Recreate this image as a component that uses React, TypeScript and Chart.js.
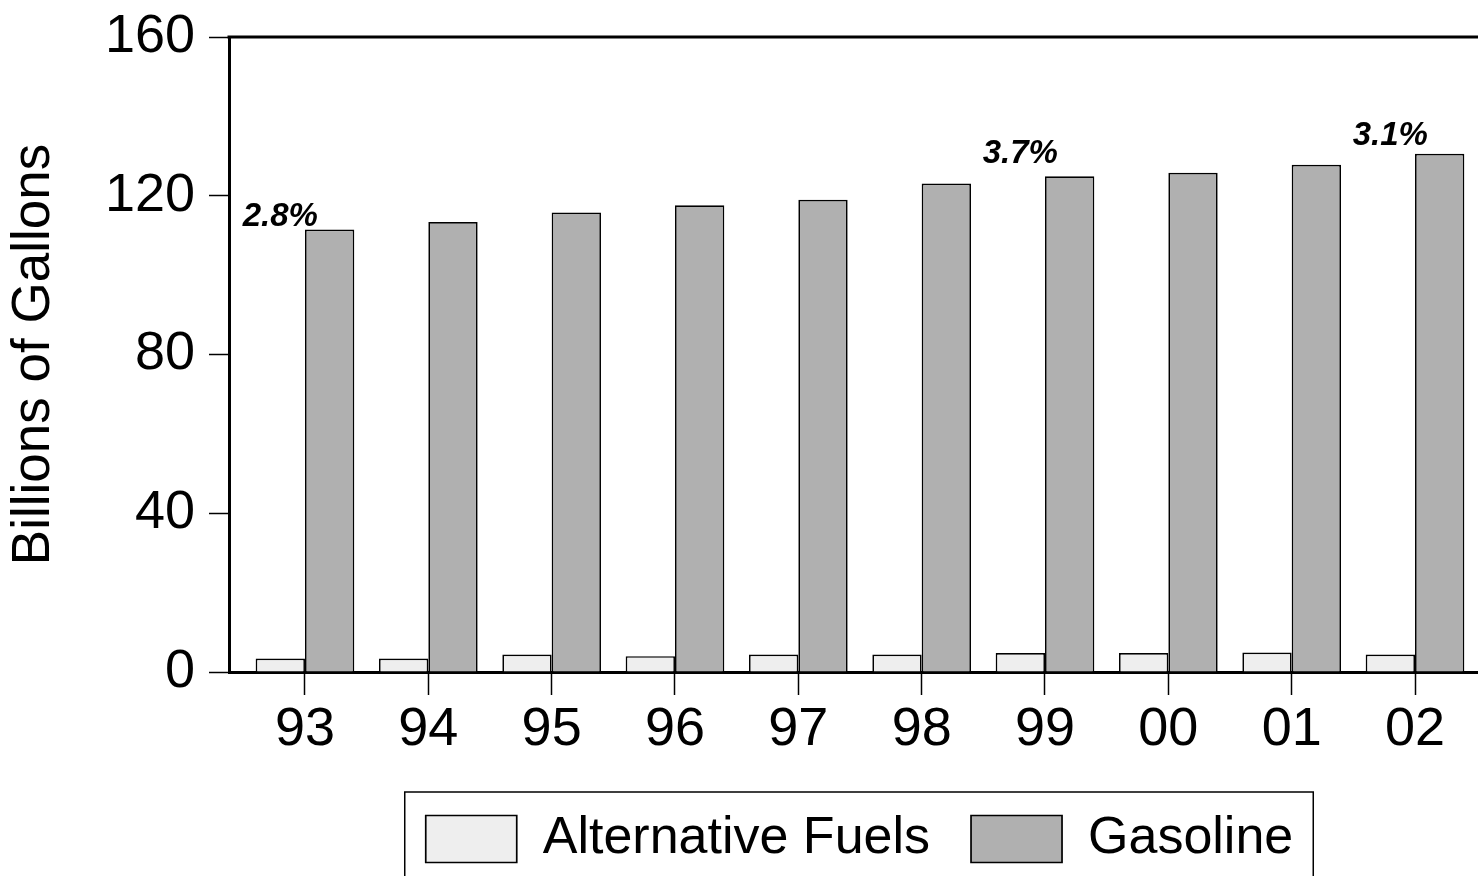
import React, { useEffect, useRef } from 'react';
import { Chart, registerables } from 'chart.js';

Chart.register(...registerables);

const categories = ['93', '94', '95', '96', '97', '98', '99', '00', '01', '02'];
const altFuels = [3.4, 3.4, 4.4, 4.0, 4.4, 4.4, 4.8, 4.8, 4.9, 4.4];
const gasoline = [111.5, 113.4, 115.8, 117.6, 119.0, 123.1, 124.9, 125.8, 127.8, 130.6];
const yTicks = [0, 40, 80, 120, 160];
const annotIndex = [0, 6, 9];
const annotText = ['2.8%', '3.7%', '3.1%'];
const annotY = [112.5, 128.2, 132.7];

const FONT = '"Liberation Sans", Arial, Helvetica, sans-serif';

const annotPlugin = {
  id: 'annots',
  afterDatasetsDraw(chart: any) {
    const ctx = chart.ctx;
    const meta = chart.getDatasetMeta(0);
    const ys = chart.scales.y;
    ctx.save();
    ctx.font = `italic bold 33px ${FONT}`;
    ctx.fillStyle = '#000';
    ctx.textAlign = 'center';
    ctx.textBaseline = 'alphabetic';
    annotIndex.forEach((idx, k) => {
      const el = meta.data[idx];
      ctx.fillText(annotText[k], el.x, ys.getPixelForValue(annotY[k]));
    });
    ctx.restore();
  },
};

const framePlugin = {
  id: 'frames',
  afterDraw(chart: any) {
    const ctx = chart.ctx;
    const a = chart.chartArea;
    ctx.save();
    ctx.strokeStyle = '#000';
    ctx.lineWidth = 3;
    ctx.beginPath();
    ctx.moveTo(a.left - 1.5, a.top);
    ctx.lineTo(a.right + 20, a.top);
    ctx.stroke();
    const lg = chart.legend;
    if (lg && lg.legendHitBoxes && lg.legendHitBoxes.length) {
      const hb = lg.legendHitBoxes;
      const last = hb[hb.length - 1];
      const left = hb[0].left - 21;
      const right = last.left + last.width + 20;
      const top = lg.top + 20;
      ctx.lineWidth = 1.5;
      ctx.strokeRect(left, top, right - left, chart.height + 20 - top);
    }
    ctx.restore();
  },
};

export default function App() {
  const ref = useRef<HTMLCanvasElement>(null);
  useEffect(() => {
    if (!ref.current) return;
    const chart = new Chart(ref.current, {
      type: 'bar',
      data: {
        datasets: [
          {
            label: 'Alternative Fuels',
            data: altFuels.map((v, i) => ({ x: i, y: v })),
            backgroundColor: '#EEEEEE',
            borderColor: '#000',
            borderWidth: 1.7,
            barPercentage: 1,
            categoryPercentage: 0.8,
          },
          {
            label: 'Gasoline',
            data: gasoline.map((v, i) => ({ x: i, y: v })),
            backgroundColor: '#B0B0B0',
            borderColor: '#000',
            borderWidth: 1.7,
            barPercentage: 1,
            categoryPercentage: 0.8,
          },
        ],
      },
      options: {
        responsive: false,
        animation: false,
        layout: { padding: { top: 37, left: 0, right: 10, bottom: 25 } },
        scales: {
          x: {
            type: 'linear',
            min: -0.616,
            max: 9.608,
            offset: false,
            afterBuildTicks: (s: any) => {
              s.ticks = categories.map((_, i) => ({ value: i }));
            },
            afterFit: (s: any) => {
              s.height = 100;
              s.paddingLeft = 0;
              s.paddingRight = 0;
            },
            ticks: {
              callback: (v: any) => categories[v] ?? '',
              autoSkip: false,
              maxRotation: 0,
              color: '#000',
              padding: 3,
              font: { family: FONT, size: 54 },
            },
            grid: {
              offset: false,
              drawOnChartArea: false,
              drawTicks: true,
              tickLength: 23,
              tickWidth: 1.5,
              tickColor: '#000',
            },
            border: { display: true, color: '#000', width: 3 },
          },
          y: {
            min: 0,
            max: 160,
            afterBuildTicks: (s: any) => {
              s.ticks = yTicks.map((v) => ({ value: v }));
            },
            afterFit: (s: any) => {
              s.width = 229;
              s.paddingTop = 0;
              s.paddingBottom = 0;
            },
            ticks: {
              color: '#000',
              padding: 14,
              font: { family: FONT, size: 54 },
            },
            grid: {
              drawOnChartArea: false,
              drawTicks: true,
              tickLength: 20,
              tickWidth: 1.5,
              tickColor: '#000',
            },
            border: { display: true, color: '#000', width: 3 },
            title: {
              display: true,
              text: 'Billions of Gallons',
              color: '#000',
              padding: { top: 3, bottom: 0 },
              font: { family: FONT, size: 53 },
            },
          },
        },
        plugins: {
          legend: {
            position: 'bottom',
            fullSize: false,
            labels: {
              boxWidth: 91,
              boxHeight: 47,
              padding: 41,
              color: '#000',
              font: { family: FONT, size: 52 },
            },
          },
          tooltip: { enabled: false },
        },
      },
      plugins: [annotPlugin, framePlugin],
    } as any);
    return () => chart.destroy();
  }, []);
  return (
    <div style={{ position: 'fixed', left: 0, top: 0, width: 1478, height: 876, overflow: 'hidden', background: '#fff' }}>
      <canvas ref={ref} width={1500} height={900} style={{ display: 'block' }} />
    </div>
  );
}
